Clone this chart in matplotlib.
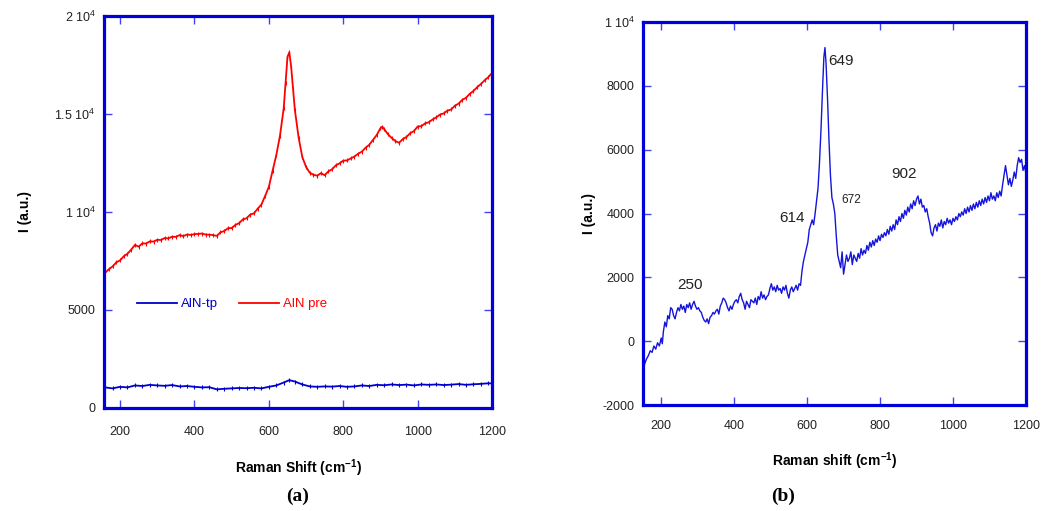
import numpy as np
import matplotlib
matplotlib.use('Agg')
import matplotlib.pyplot as plt
from matplotlib.lines import Line2D
from matplotlib.ticker import FuncFormatter, FixedLocator

plt.rcParams['font.family'] = ['Liberation Sans', 'DejaVu Sans']
plt.rcParams['mathtext.fontset'] = 'custom'
plt.rcParams['mathtext.rm'] = 'Liberation Sans'
plt.rcParams['mathtext.it'] = 'Liberation Sans:italic'
plt.rcParams['mathtext.bf'] = 'Liberation Sans:bold'

# (a) AlN pre / AlN-tp spectra
pre_shift = [160, 170, 180, 190, 200, 210, 220, 230, 240, 250, 260, 270, 280, 290, 300,
             310, 320, 330, 340, 350, 360, 370, 380, 390, 400, 410, 420, 430, 440, 450,
             460, 470, 480, 490, 500, 510, 520, 530, 540, 550, 560, 570, 580, 590, 600,
             610, 620, 630, 640, 645, 650, 655, 660, 665, 670, 680, 690, 700, 710, 720,
             730, 740, 750, 760, 770, 780, 790, 800, 810, 820, 830, 840, 850, 860, 870,
             880, 890, 900, 905, 910, 920, 930, 940, 950, 960, 970, 980, 990, 1000, 1010,
             1020, 1030, 1040, 1050, 1060, 1070, 1080, 1090, 1100, 1110, 1120, 1130, 1140,
             1150, 1160, 1170, 1180, 1190, 1200]
pre_int = [6900, 7080, 7220, 7430, 7530, 7740, 7870, 8080, 8320, 8230, 8400, 8390, 8500, 8490, 8580,
           8570, 8670, 8650, 8740, 8730, 8820, 8770, 8850, 8830, 8870, 8880, 8900, 8850, 8840, 8820,
           8780, 8960, 9030, 9170, 9180, 9340, 9430, 9620, 9680, 9870, 9930, 10170, 10380, 10820, 11280,
           12100, 12900, 13900, 15300, 16600, 17900, 18150, 17400, 16300, 15200, 13800, 12800, 12300, 12000, 11900,
           11850, 11980, 11880, 12070, 12180, 12380, 12480, 12620, 12630, 12730, 12830, 12970, 13080, 13280, 13430,
           13680, 13930, 14270, 14350, 14230, 13970, 13780, 13620, 13530, 13720, 13830, 14020, 14130, 14360, 14380,
           14520, 14580, 14720, 14830, 14970, 15030, 15170, 15230, 15420, 15530, 15720, 15830, 16030,
           16180, 16370, 16530, 16720, 16880, 17100]

tp_shift = [160, 180, 200, 220, 240, 260, 280, 300, 320, 340, 360, 380, 400, 420, 440, 460, 480,
            500, 520, 540, 560, 580, 600, 620, 640, 655, 670, 690, 710, 730, 750, 770, 790, 810,
            830, 850, 870, 890, 910, 930, 950, 970, 990, 1010, 1030, 1050, 1070, 1090, 1110,
            1130, 1150, 1170, 1190, 1200]
tp_int = [1050, 1000, 1080, 1050, 1150, 1120, 1180, 1150, 1130, 1170, 1100, 1120, 1080, 1050, 1060, 950, 980,
          1000, 1020, 1010, 1030, 1000, 1080, 1150, 1300, 1420, 1350, 1200, 1100, 1080, 1100, 1090, 1120, 1080,
          1100, 1150, 1120, 1180, 1160, 1200, 1170, 1190, 1150, 1200, 1180, 1200, 1170, 1190, 1220,
          1180, 1210, 1230, 1260, 1250]

# (b) Raman shift spectrum
b_shift = [150, 155, 160, 165, 170, 175, 180, 185, 190, 195, 200, 203, 206, 210, 214, 218, 222, 226,
           230, 234, 238, 242, 246, 250, 254, 258, 262, 266, 270, 274, 278, 282, 286, 290, 294, 298,
           302, 306, 310, 314, 318, 322, 326, 330, 334, 338, 342, 346, 350, 354, 358, 362, 366, 370,
           374, 378, 382, 386, 390, 394, 398, 402, 406, 410, 414, 418, 422, 426, 430, 434, 438, 442,
           446, 450, 454, 458, 462, 466, 470, 474, 478, 482, 486, 490, 494, 498, 502, 506, 510, 514,
           518, 522, 526, 530, 534, 538, 542, 546, 550, 554, 558, 562, 566, 570, 574, 578, 582, 586,
           590, 594, 598, 602, 606, 610, 614, 618, 622, 626, 630, 634, 638, 642, 646, 649, 652, 656,
           660, 664, 668, 672, 676, 680, 684, 688, 692, 696, 700, 704, 708, 712, 716, 720, 724, 728,
           732, 736, 740, 744, 748, 752, 756, 760, 764, 768, 772, 776, 780, 784, 788, 792, 796, 800,
           804, 808, 812, 816, 820, 824, 828, 832, 836, 840, 844, 848, 852, 856, 860, 864, 868, 872,
           876, 880, 884, 888, 892, 896, 900, 904, 908, 912, 916, 920, 924, 928, 932, 936, 940, 944,
           948, 952, 956, 960, 964, 968, 972, 976, 980, 984, 988, 992, 996, 1000, 1004, 1008, 1012,
           1016, 1020, 1024, 1028, 1032, 1036, 1040, 1044, 1048, 1052, 1056, 1060, 1064, 1068, 1072,
           1076, 1080, 1084, 1088, 1092, 1096, 1100, 1104, 1108, 1112, 1116, 1120, 1124, 1128, 1132,
           1136, 1140, 1144, 1148, 1152, 1156, 1160, 1164, 1168, 1172, 1176, 1180, 1184, 1188, 1192,
           1196, 1200]
b_int = [-900, -700, -550, -450, -300, -350, -150, -250, -50, -150, 100, -80, 300, 600, 450, 800, 700, 1050,
         1000, 800, 700, 900, 1050, 950, 1150, 1000, 1100, 900, 1150, 1050, 1200, 1000, 1150, 1250, 1100, 1000,
         1050, 950, 900, 750, 650, 600, 700, 550, 750, 800, 900, 850, 950, 1000, 850, 1100, 1200, 1350,
         1300, 1200, 1050, 950, 1100, 1000, 1150, 1250, 1300, 1200, 1400, 1500, 1300, 1200, 1000, 1250, 1150, 1050,
         1300, 1250, 1200, 1350, 1150, 1400, 1300, 1550, 1350, 1450, 1300, 1400, 1450, 1650, 1800, 1600, 1700, 1550,
         1750, 1600, 1650, 1500, 1700, 1600, 1750, 1500, 1350, 1600, 1700, 1550, 1650, 1750, 1600, 1800, 1750, 2200,
         2500, 2700, 2900, 3100, 3500, 3650, 3800, 3650, 4000, 4400, 4800, 5600, 6600, 7800, 8900, 9200, 8700, 7600,
         6300, 5200, 4500, 4300, 4000, 3300, 2700, 2500, 2300, 2800, 2100, 2400, 2700, 2500, 2600, 2800, 2400, 2700,
         2600, 2500, 2750, 2600, 2900, 2700, 2850, 2750, 3000, 2850, 3100, 2950, 3150, 3000, 3200, 3100, 3300, 3150,
         3350, 3250, 3400, 3300, 3500, 3350, 3600, 3450, 3650, 3500, 3800, 3650, 3900, 3750, 4000, 3850, 4100, 3950,
         4200, 4050, 4300, 4150, 4400, 4250, 4450, 4550, 4300, 4450, 4200, 4250, 4050, 4150, 3900, 3700, 3400, 3300,
         3550, 3650, 3450, 3700, 3600, 3800, 3550, 3750, 3650, 3850, 3700, 3800, 3650, 3850, 3750, 3900, 3800,
         4000, 3900, 4050, 3950, 4150, 4000, 4200, 4050, 4250, 4100, 4300, 4150, 4350, 4200, 4400,
         4250, 4450, 4300, 4500, 4350, 4550, 4400, 4650, 4450, 4550, 4400, 4650, 4500, 4700, 4550,
         4900, 5200, 5500, 5200, 4900, 5100, 4850, 5050, 5300, 5100, 5500, 5750, 5600, 5700, 5350,
         5500, 5250]

# peak labels and where their text sits
peak_names = ['250', '614', '649', '672', '902']
peak_lbl_x = [279, 558, 692, 720, 865]
peak_lbl_y = [1760, 3860, 8780, 4430, 5240]

frame_col = '#0000dd'
tick_col = '#4444ee'


def sci_fmt(v, pos):
    if abs(v) >= 1e4:
        return r'$\mathrm{%g\ 10^{4}}$' % (v / 1e4)
    return '%d' % v


def style_axes(ax, xpad):
    for s in ax.spines.values():
        s.set_color(frame_col)
        s.set_linewidth(2.3)
    ax.tick_params(direction='in', length=6, width=1, color=tick_col,
                   top=True, right=True, labelsize=9, labelcolor='#222222', pad=6)
    ax.tick_params(axis='x', pad=xpad)
    ax.xaxis.set_major_locator(FixedLocator([200, 400, 600, 800, 1000, 1200]))


fig = plt.figure(figsize=(10.53, 5.11), dpi=100)

# (a)
ax1 = fig.add_axes([0.0988, 0.2016, 0.3685, 0.7671])
ax1.plot(tp_shift, tp_int, color='#0000cc', linewidth=1.3,
         marker='|', markersize=3, markeredgewidth=0.8)
ax1.plot(pre_shift, pre_int, color='#ff0000', linewidth=1.3,
         marker='|', markersize=3, markeredgewidth=0.8)
ax1.set_xlim(157, 1200)
ax1.set_ylim(0, 20000)
ax1.yaxis.set_major_locator(FixedLocator([0, 5000, 10000, 15000, 20000]))
ax1.yaxis.set_major_formatter(FuncFormatter(sci_fmt))
style_axes(ax1, 13)
handles = [Line2D([], [], color='#0000cc', linewidth=1.3),
           Line2D([], [], color='#ff0000', linewidth=1.3)]
ax1.legend(handles, ['AlN-tp', 'AlN pre'], loc='center',
           bbox_to_anchor=(0.33, 0.265), ncol=2, frameon=False, fontsize=9.5,
           handlelength=3.0, handletextpad=0.3, columnspacing=1.6,
           labelcolor='linecolor')
ax1.set_xlabel(r'Raman Shift (cm$^{\mathbf{-1}}$)', fontsize=10, fontweight='bold', labelpad=14)
ax1.set_ylabel('I (a.u.)', fontsize=10, fontweight='bold', labelpad=16)

# (b)
ax2 = fig.add_axes([0.6106, 0.2074, 0.3637, 0.7495])
ax2.plot(b_shift, b_int, color='#1414dc', linewidth=1.0)
ax2.set_xlim(150, 1200)
ax2.set_ylim(-2000, 10000)
ax2.yaxis.set_major_locator(FixedLocator([-2000, 0, 2000, 4000, 6000, 8000, 10000]))
ax2.yaxis.set_major_formatter(FuncFormatter(sci_fmt))
style_axes(ax2, 11)
ax2.set_xlabel(r'Raman shift (cm$^{\mathbf{-1}}$)', fontsize=10, fontweight='bold', labelpad=13)
ax2.set_ylabel('I (a.u.)', fontsize=10, fontweight='bold', labelpad=5)

for name, lx, ly in zip(peak_names, peak_lbl_x, peak_lbl_y):
    fs = 8.5 if name == '672' else 11
    ax2.text(lx, ly, name, ha='center', va='center', fontsize=fs, color='#222222')

fig.text(0.283, 0.02, '(a)', family='Liberation Serif', fontsize=14, fontweight='bold', ha='center')
fig.text(0.744, 0.02, '(b)', family='Liberation Serif', fontsize=14, fontweight='bold', ha='center')

fig.savefig('out.png', dpi=100)
